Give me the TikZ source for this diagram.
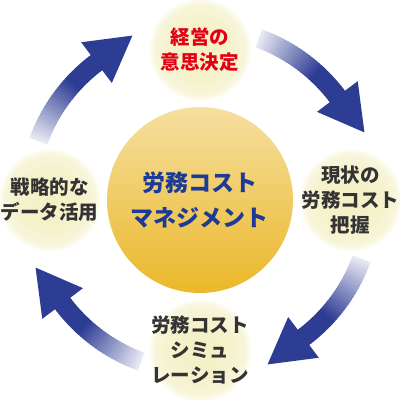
\documentclass[tikz,border=0pt]{standalone}
\usepackage{fontspec}
\setmainfont{Noto Sans CJK JP}
\usetikzlibrary{calc,positioning}
\definecolor{cyclearrow}{RGB}{46,61,148}
\definecolor{phasecream}{RGB}{243,240,196}
\definecolor{hubgold}{RGB}{235,184,42}
\definecolor{hubtext}{RGB}{28,58,150}
\definecolor{decisionred}{RGB}{228,0,18}
\definecolor{phasetext}{RGB}{51,51,51}
\pgfdeclareradialshading{phasedisc}{\pgfpointorigin}{color(0bp)=(phasecream); color(15bp)=(phasecream!85!white); color(22bp)=(phasecream!60!white); color(25bp)=(white); color(50bp)=(white)}
\tikzset{
    x=1pt,y=1pt,node distance=5pt,
    hub/.style ={circle, minimum size=186pt, inner sep=0pt, align=center,
                 top color=hubgold!45!white, middle color=hubgold!92!white, bottom color=hubgold,
                 text=hubtext, font=\fontsize{23pt}{35pt}\selectfont\bfseries},
    phase/.style ={circle, minimum size=104pt, inner sep=-14pt, align=center, shading=phasedisc,
                 text=phasetext, font=\fontsize{19.5pt}{25pt}\selectfont\bfseries}
}

\begin{document}
\begin{tikzpicture}
  \useasboundingbox (-200,-200) rectangle (200,200);

  \node[hub] (hub) at (0, 0) {労務コスト\\マネジメント};

  \node[phase, text=decisionred] (decide) [above =of hub] {経営の\\意思決定};

  \node[phase] (grasp) [right =of hub] {現状の\\労務コスト\\把握};

  \node[phase] (simulate) [below =of hub] {労務コスト\\シミュ\\レーション};

  \node[phase] (utilize) [left =of hub] {戦略的な\\データ活用};

  % four curved arrows round the hub, fading in from the tail
  \foreach \turn in {0,90,180,270}{
    \foreach \step in {0,...,33}{
      \pgfmathsetmacro\from{160-\turn-\step}
      \pgfmathsetmacro\to{\from-1.3}
      \pgfmathsetmacro\mix{min(100,12+\step*4)}
      \draw[cyclearrow!\mix!white, line width=19pt]
        ($(hub)+(\from:172)$) arc[start angle=\from, end angle=\to, radius=172];
    }
    \pgfmathsetmacro\base{127-\turn}
    \pgfmathsetmacro\dir{\base-90}
    \fill[cyclearrow] ($(hub)+(\base:146.5)$) -- ($(hub)+(\base:197.5)$)
      -- ($(hub)+(\base:172)+(\dir:45)$) -- cycle;
  }
\end{tikzpicture}
\end{document}
